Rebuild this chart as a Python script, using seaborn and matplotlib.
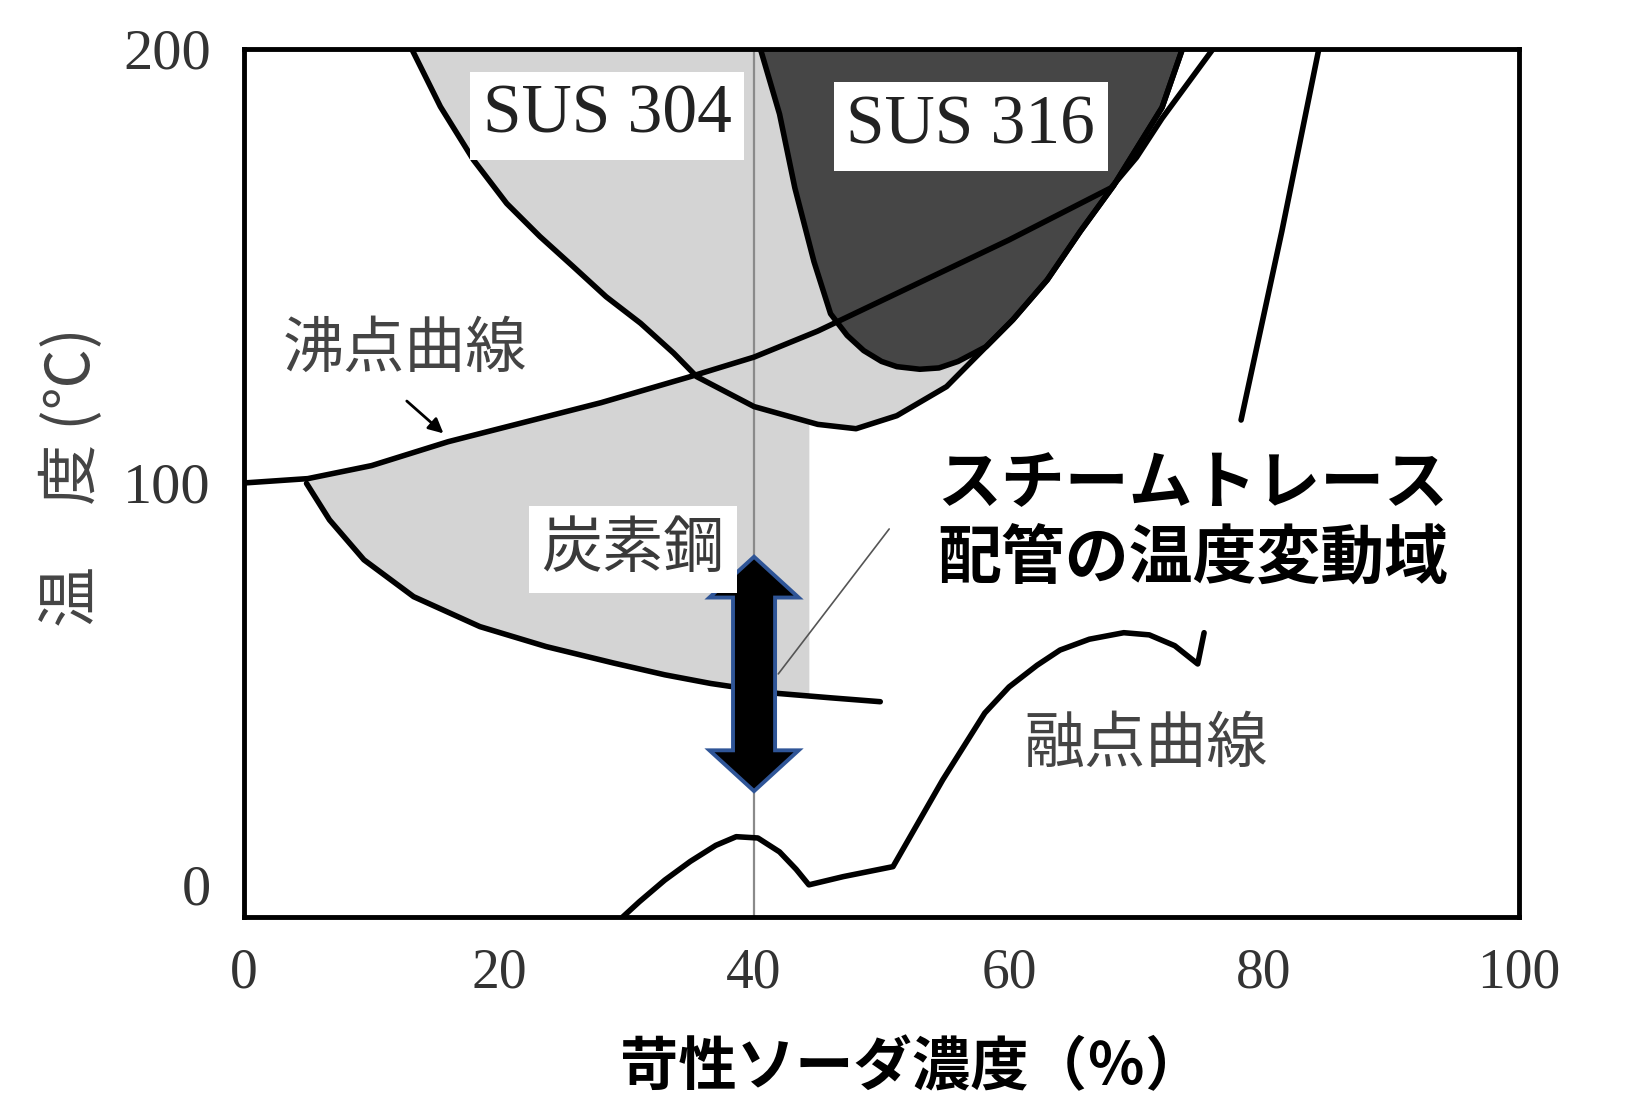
import numpy as np
import pandas as pd
import seaborn as sns
import matplotlib.pyplot as plt
from matplotlib.patches import Polygon

# ---------------- data ----------------
# boiling point curve (沸点曲線)
bp_x = [0, 5, 10, 16, 22, 28, 35, 40, 45, 50, 55, 60, 64, 68, 70, 72, 74, 76]
bp_y = [100, 101, 104, 109.5, 114, 118.5, 124.5, 129, 135, 142, 149, 156, 162, 168, 175, 184, 192, 200]

# carbon steel boundary (炭素鋼)
cs_x = [4.9, 6.7, 9.4, 13.3, 18.5, 23.7, 29, 33, 36.6, 41.9, 46, 49.9]
cs_y = [99.9, 91.5, 82.3, 73.8, 66.9, 62.3, 58.5, 55.8, 53.8, 51.5, 50.5, 49.6]
cs_fill_right = 44.3

# SUS304 boundary (U-shaped)
u_x = [13.15, 15.4, 18.0, 20.6, 23.2, 25.8, 28.4, 31.1, 33.7, 35.5, 40, 45, 48, 51.2,
       55.1, 58.2, 60.3, 63, 65.6, 68.2, 72, 73.6]
u_y = [200, 186.7, 174.4, 164.4, 156.8, 149.9, 142.9, 136.8, 129.9, 124.5, 117.6, 113.5, 112.5, 115.5,
       122.2, 131.4, 137.6, 146.8, 158, 168.5, 186.5, 200]

# SUS316 boundary
d_x = [40.5, 42, 43.2, 44.7, 46, 47.3, 48.6, 50, 51.2, 53, 54.5, 56, 58.2, 60.3, 63, 65.6, 68.2, 72, 73.6]
d_y = [200, 185, 168, 151, 139, 134, 130.5, 128, 126.8, 126.2, 126.5, 128, 131.4, 137.6, 146.8, 158, 168.5, 186.5, 200]

# melting point curve (融点曲線)
mp_x = [29.7, 31, 33, 35, 37, 38.6, 40.3, 42, 43.3, 44.3, 47, 50.9, 54.8, 58.1, 60, 62.2, 64, 66.3, 69, 71, 73, 74.8, 75.3]
mp_y = [0, 3.5, 8.5, 12.8, 16.5, 18.5, 18.2, 15, 11, 7.4, 9.3, 11.6, 31.6, 47, 53, 58, 61.5, 64, 65.5, 65, 62.5, 58.3, 65.5]

# steep line at right
rl_x = [84.3, 81.4, 78.2]
rl_y = [200, 158, 114.5]

# steam-trace temperature range (double arrow)
arrow_x = 40
arrow_lo, arrow_hi = 29, 83

xticks = [0, 20, 40, 60, 80, 100]
yticks = [0, 100, 200]

# ---------------- figure ----------------
sns.set_theme(style="white")
plt.rcParams['font.family'] = ['Noto Sans CJK JP', 'DejaVu Sans']

fig = plt.figure(figsize=(16.26, 11.15), dpi=100)
ax = fig.add_axes([0.1501, 0.1776, 0.7841, 0.7785])
ax.set_xlim(0, 100)
ax.set_ylim(0, 200)

LIGHT = '#d4d4d4'
DARK = '#464646'

# carbon steel region
grid = np.linspace(cs_x[0], cs_fill_right, 300)
ax.fill_between(grid, np.interp(grid, cs_x, cs_y), np.interp(grid, bp_x, bp_y),
                color=LIGHT, lw=0, zorder=1)
# SUS304 region
ax.fill_between(u_x, u_y, 200, color=LIGHT, lw=0, zorder=1)
# SUS316 region
ax.fill_between(d_x, d_y, 200, color=DARK, lw=0, zorder=1.5)

# vertical reference line at 40 %
ax.axvline(40, color='#8a8a8a', lw=1.6, zorder=2)

lw = 4
for xs, ys in [(bp_x, bp_y), (cs_x, cs_y), (u_x, u_y), (d_x, d_y), (mp_x, mp_y), (rl_x, rl_y)]:
    sns.lineplot(x=xs, y=ys, ax=ax, color='black', lw=lw, sort=False,
                 estimator=None, legend=False, zorder=3)

# double arrow
sw, hw, hl = 1.65, 3.5, 9.4
pts = [(arrow_x, arrow_hi), (arrow_x + hw, arrow_hi - hl), (arrow_x + sw, arrow_hi - hl),
       (arrow_x + sw, arrow_lo + hl), (arrow_x + hw, arrow_lo + hl), (arrow_x, arrow_lo),
       (arrow_x - hw, arrow_lo + hl), (arrow_x - sw, arrow_lo + hl), (arrow_x - sw, arrow_hi - hl),
       (arrow_x - hw, arrow_hi - hl)]
ax.add_patch(Polygon(pts, closed=True, facecolor='black', edgecolor='#2f5597',
                     lw=2.8, joinstyle='miter', zorder=6))

# leader line
ax.plot([41.9, 50.6], [56, 89.4], color='#555555', lw=1.2, zorder=5)

# labels
box = dict(boxstyle='square,pad=0.18', fc='white', ec='none')
ax.text(28.5, 184.6, 'SUS 304', fontsize=50, family='Liberation Serif', color='#222222',
        ha='center', va='center', bbox=box, zorder=7)
ax.text(57, 182.1, 'SUS 316', fontsize=50, family='Liberation Serif', color='#222222',
        ha='center', va='center', bbox=box, zorder=7)
ax.text(30.5, 84.7, '炭素鋼', fontsize=44, color='#3a3a3a', ha='center', va='center',
        bbox=dict(boxstyle='square,pad=0.2', fc='white', ec='none'), zorder=7)
ax.text(12.6, 130.8, '沸点曲線', fontsize=44, color='#444444', ha='center', va='center', zorder=7)
ax.text(70.7, 39.7, '融点曲線', fontsize=44, color='#444444', ha='center', va='center', zorder=7)
ax.annotate('', xy=(15.8, 111), xytext=(12.6, 119.3),
            arrowprops=dict(arrowstyle='-|>', color='black', lw=2, mutation_scale=22), zorder=7)

ax.text(54.4, 99.8, 'スチームトレース', fontsize=46, fontweight='bold', color='black',
        ha='left', va='center', zorder=7)
ax.text(54.4, 82.3, '配管の温度変動域', fontsize=46, fontweight='bold', color='black',
        ha='left', va='center', zorder=7)

# axes styling
for s in ax.spines.values():
    s.set_color('black')
    s.set_linewidth(3.5)
    s.set_zorder(8)
ax.set_xticks(xticks, labels=[str(v) for v in xticks], fontfamily='Liberation Serif',
              fontsize=40, color='#333333')
ax.set_yticks(yticks, labels=[str(v) for v in yticks], fontfamily='Liberation Serif',
              fontsize=42, color='#333333')
ax.tick_params(axis='x', direction='in', length=14, width=3, pad=22, color='black')
ax.tick_params(axis='y', length=0, pad=24)
ax.get_yticklabels()[0].set_verticalalignment('bottom')
ax.set_xlabel('')
ax.set_ylabel('')

fig.text(0.0447, 0.572, '温　度 (℃)', rotation=90, fontsize=44, color='#444444',
         ha='center', va='center')
fig.text(0.561, 0.042, '苛性ソーダ濃度（％）', fontsize=42, fontweight='bold', color='black',
         ha='center', va='center')

fig.savefig('out.png', dpi=100)
